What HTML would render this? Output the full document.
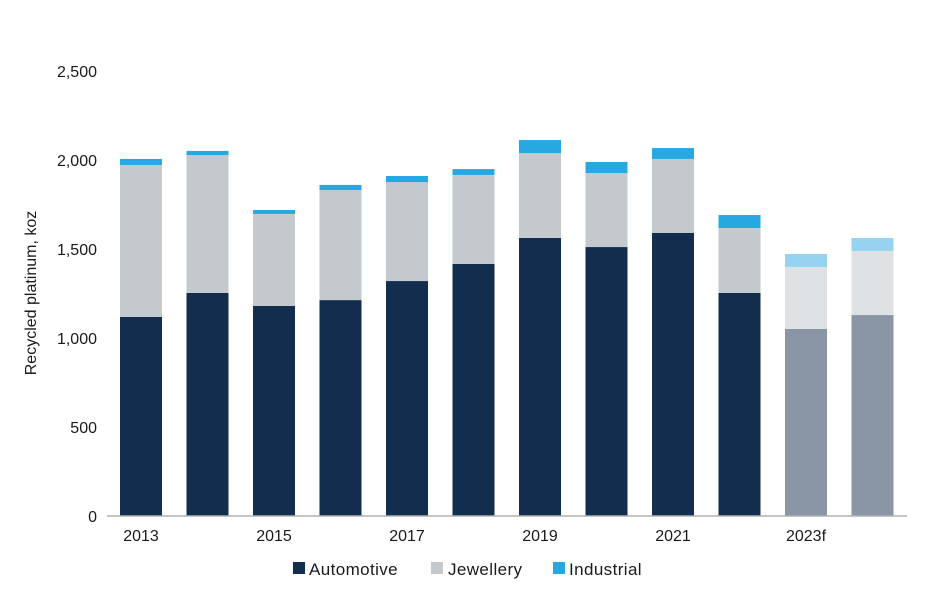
<!DOCTYPE html>
<html><head><meta charset="utf-8"><style>
body{margin:0;background:#fff;}
svg{display:block;font-family:"Liberation Sans",sans-serif;}
</style></head><body>
<svg id="chart" width="940" height="600">
<g id="grid"></g><g id="bars"></g><g id="axes"></g>
<text transform="translate(36,293) rotate(-90)" text-anchor="middle" font-size="16" fill="#1a1a1a">Recycled platinum, koz</text>
<g font-size="17" letter-spacing="0.4" fill="#1a1a1a">
<rect x="293" y="562" width="12" height="12" fill="#132d4e"/>
<text x="309" y="575">Automotive</text>
<rect x="431" y="562" width="12" height="12" fill="#c3c9cc"/>
<text x="448" y="575">Jewellery</text>
<rect x="553" y="562" width="12" height="12" fill="#27a8e0"/>
<text x="569" y="575">Industrial</text>
</g>
</svg>
<script>
const categories=["2013","2014","2015","2016","2017","2018","2019","2020","2021","2022","2023f","2024f"];
const xLabels=["2013","","2015","","2017","","2019","","2021","","2023f",""];
const automotive=[1118,1253,1180,1213,1320,1416,1562,1511,1590,1253,1051,1129];
const jewellery=[854,775,517,618,556,500,477,416,416,365,348,360];
const industrial=[34,23,22,29,34,33,73,62,61,73,73,73];
const forecast=[false,false,false,false,false,false,false,false,false,false,true,true];
const yTicks=[0,500,1000,1500,2000,2500];
const NS="http://www.w3.org/2000/svg";
const y0=516,yTop=71,yMax=2500;
function y(v){return y0-(v/yMax)*(y0-yTop);}
function xc(i){return 141+i*66.5;}
const bw=42;
const axes=document.getElementById('axes'),bars=document.getElementById('bars');
function mk(tag,attrs,parent){const e=document.createElementNS(NS,tag);for(const k in attrs)e.setAttribute(k,attrs[k]);parent.appendChild(e);return e;}
yTicks.forEach(t=>{
 const tx=mk('text',{x:97,y:y(t)+6,'text-anchor':'end','font-size':16,fill:'#1a1a1a'},axes);
 tx.textContent=t.toLocaleString('en-US');
 
 
});
const ax=mk('line',{x1:107,x2:907,y1:y0,y2:y0,stroke:'#b0b0b0','stroke-width':1.5},axes);


categories.forEach((c,i)=>{
 const f=forecast[i];
 const cols=f?['#8a96a6','#dfe2e5','#95d3f0']:['#132d4e','#c3c9cc','#27a8e0'];
 const vals=[automotive[i],jewellery[i],industrial[i]];
 const names=['automotive','jewellery','industrial'];
 let base=0;
 vals.forEach((v,k)=>{
  const r=mk('rect',{x:xc(i)-bw/2,y:y(base+v),width:bw,height:y(base)-y(base+v),fill:cols[k]},bars);
  
  
  base+=v;
 });
 if(xLabels[i]){
  const t=mk('text',{x:xc(i),y:541,'text-anchor':'middle','font-size':16,fill:'#1a1a1a'},axes);
  t.textContent=xLabels[i];
  
  
 }
});
</script>
</body></html>
